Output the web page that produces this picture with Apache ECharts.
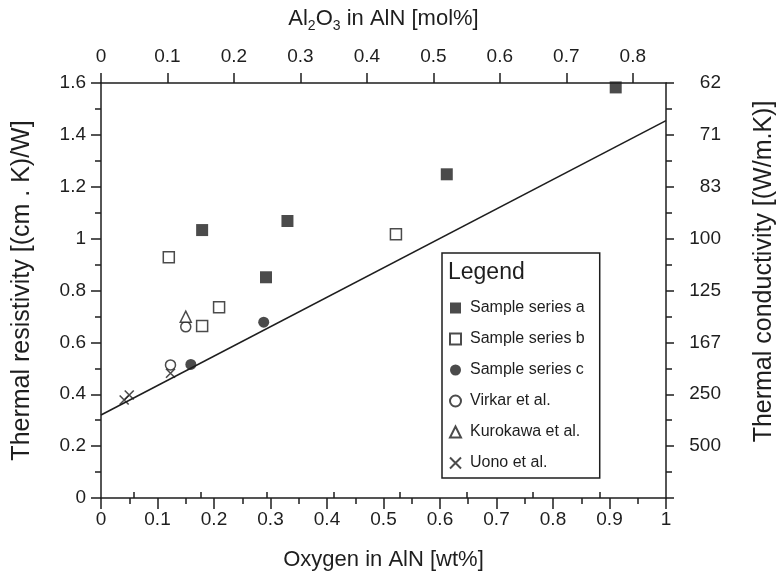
<!DOCTYPE html>
<html>
<head>
<meta charset="utf-8">
<title>Thermal resistivity of AlN vs oxygen content</title>
<script src="https://cdn.jsdelivr.net/npm/echarts@6/dist/echarts.min.js"></script>
<style>
  html, body { margin: 0; padding: 0; background: #fff; }
  #chart { width: 777px; height: 581px; }
</style>
</head>
<body>
<div id="chart"></div>
<script>
// Oxygen content (wt%) and thermal resistivity ((cm.K)/W) per data set
const seriesAOxygen = [0.179, 0.292, 0.330, 0.612, 0.911];
const seriesAResistivity = [1.033, 0.851, 1.068, 1.248, 1.583];

const seriesBOxygen = [0.120, 0.179, 0.209, 0.522];
const seriesBResistivity = [0.928, 0.663, 0.735, 1.017];

const seriesCOxygen = [0.159, 0.288];
const seriesCResistivity = [0.515, 0.678];

const virkarOxygen = [0.123, 0.150];
const virkarResistivity = [0.513, 0.660];

const kurokawaOxygen = [0.150];
const kurokawaResistivity = [0.699];

const uonoOxygen = [0.041, 0.050, 0.123];
const uonoResistivity = [0.378, 0.397, 0.481];

// Linear trend line end points
const trendOxygen = [0, 1];
const trendResistivity = [0.320, 1.455];

// Secondary axis tick labels
const conductivityLabels = ['', '500', '250', '167', '125', '100', '83', '71', '62'];
const aluminaMinorTicks = [0.05, 0.15, 0.25, 0.35, 0.45, 0.55, 0.65, 0.75];

const seriesNames = ['Sample series a', 'Sample series b', 'Sample series c',
                     'Virkar et al.', 'Kurokawa et al.', 'Uono et al.'];

const FONT = '"Liberation Sans", Arial, Helvetica, sans-serif';
const INK = '#1e1e1e';

function pairs(xs, ys) {
  return xs.map((x, i) => [x, ys[i]]);
}

const axisLineStyle = { color: INK, width: 1.5 };
const labelStyle = { fontSize: 19, color: INK, fontFamily: FONT };
const nameStyle = { fontSize: 22, color: INK, fontFamily: FONT };
const sideNameStyle = { fontSize: 25, color: INK, fontFamily: FONT };

function valueAxisBase() {
  return {
    type: 'value',
    axisLine: { show: true, onZero: false, lineStyle: axisLineStyle },
    axisTick: { show: true, inside: false, length: 10, lineStyle: axisLineStyle },
    minorTick: { show: true, splitNumber: 2, length: 6, lineStyle: axisLineStyle },
    splitLine: { show: false },
    minorSplitLine: { show: false }
  };
}

const filled = { color: INK };
const hollow = { color: '#fff', borderColor: INK, borderWidth: 1.5 };

function scatter(name, xs, ys, symbol, size, style) {
  return {
    name: name,
    type: 'scatter',
    xAxisIndex: 0,
    yAxisIndex: 0,
    symbol: symbol,
    symbolSize: size,
    itemStyle: style,
    data: pairs(xs, ys),
    z: 3
  };
}

const chart = echarts.init(document.getElementById('chart'), null, { renderer: 'canvas' });

chart.setOption({
  animation: false,
  backgroundColor: '#fff',
  textStyle: { fontFamily: FONT },
  grid: { left: 101, right: 111, top: 83, bottom: 83, containLabel: false, outerBoundsMode: 'none' },
  title: {
    text: 'Legend',
    left: 448,
    top: 261,
    padding: 0,
    textStyle: { fontSize: 23, fontWeight: 'normal', color: INK, fontFamily: FONT }
  },
  legend: {
    data: seriesNames,
    orient: 'vertical',
    left: 442,
    top: 253,
    padding: [47, 15, 7, 7],
    itemWidth: 11,
    itemHeight: 11,
    itemGap: 15,
    borderColor: INK,
    borderWidth: 1.5,
    selectedMode: false,
    textStyle: { fontSize: 16, color: INK, fontFamily: FONT, padding: [0, 0, 0, 4] }
  },
  xAxis: [
    Object.assign(valueAxisBase(), {
      position: 'bottom',
      min: 0, max: 1, interval: 0.1,
      axisTick: { show: true, inside: false, length: 11, lineStyle: axisLineStyle },
      axisLabel: Object.assign({ margin: 12 }, labelStyle),
      name: 'Oxygen in AlN [wt%]',
      nameLocation: 'middle',
      nameGap: 51,
      nameTextStyle: nameStyle
    }),
    Object.assign(valueAxisBase(), {
      position: 'top',
      min: 0, max: 0.85, interval: 0.1,
      minorTick: { show: false },
      axisLabel: Object.assign({ margin: 17, showMaxLabel: false }, labelStyle),
      name: 'Al{sub|2}O{sub|3} in AlN [mol%]',
      nameLocation: 'middle',
      nameGap: 50,
      nameTextStyle: Object.assign({
        lineHeight: 28,
        rich: { sub: { fontSize: 14, lineHeight: 14, verticalAlign: 'bottom', color: INK, fontFamily: FONT } }
      }, nameStyle)
    }),
    {
      type: 'value',
      position: 'top',
      min: 0, max: 0.85,
      axisLine: { show: false },
      axisTick: { show: true, inside: false, length: 6, lineStyle: axisLineStyle, customValues: aluminaMinorTicks },
      axisLabel: { show: false },
      splitLine: { show: false }
    }
  ],
  yAxis: [
    Object.assign(valueAxisBase(), {
      position: 'left',
      min: 0, max: 1.6, interval: 0.2,
      axisLabel: Object.assign({ margin: 15 }, labelStyle),
      name: 'Thermal resistivity [(cm . K)/W]',
      nameLocation: 'middle',
      nameRotate: 90,
      nameGap: 66,
      nameTextStyle: sideNameStyle
    }),
    Object.assign(valueAxisBase(), {
      position: 'right',
      min: 0, max: 1.6, interval: 0.2,
      axisTick: { show: true, inside: false, length: 8, lineStyle: axisLineStyle },
      axisLabel: Object.assign({
        margin: 55,
        align: 'right',
        formatter: function (v) { return conductivityLabels[Math.round(v / 0.2)] || ''; }
      }, labelStyle),
      name: 'Thermal conductivity [(W/m.K)]',
      nameLocation: 'middle',
      nameRotate: 90,
      nameGap: 86,
      nameTextStyle: Object.assign({ padding: [0, 0, 0, 38] }, sideNameStyle)
    })
  ],
  series: [
    {
      name: 'trend',
      type: 'line',
      xAxisIndex: 0,
      yAxisIndex: 0,
      data: pairs(trendOxygen, trendResistivity),
      showSymbol: false,
      symbol: 'none',
      lineStyle: { color: INK, width: 1.6 },
      z: 2,
      silent: true
    },
    scatter(seriesNames[0], seriesAOxygen, seriesAResistivity, 'rect', 12, filled),
    scatter(seriesNames[1], seriesBOxygen, seriesBResistivity, 'rect', 11, hollow),
    scatter(seriesNames[2], seriesCOxygen, seriesCResistivity, 'circle', 11, filled),
    scatter(seriesNames[3], virkarOxygen, virkarResistivity, 'circle', 10, hollow),
    scatter(seriesNames[4], kurokawaOxygen, kurokawaResistivity, 'triangle', 11, hollow),
    scatter(seriesNames[5], uonoOxygen, uonoResistivity, 'path://M0,0L10,10M10,0L0,10', 9,
            { color: 'transparent', borderColor: INK, borderWidth: 1.6 })
  ]
});
</script>
</body>
</html>
